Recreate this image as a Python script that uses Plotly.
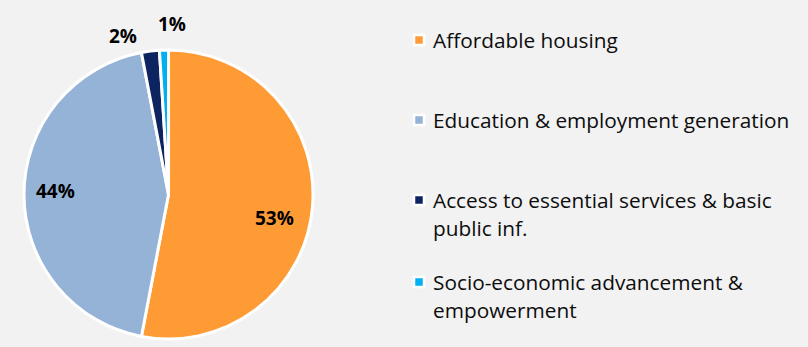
import math
import plotly.graph_objects as go

# Share of funding by purpose (%)
categories = [
    "Affordable housing",
    "Education & employment generation",
    "Access to essential services & basic public inf.",
    "Socio-economic advancement & empowerment",
]
legend_lines = [
    ["Affordable housing"],
    ["Education & employment generation"],
    ["Access to essential services & basic", "public inf."],
    ["Socio-economic advancement &", "empowerment"],
]
values = [53, 44, 2, 1]
colors = ["#FF9B35", "#95B3D7", "#0C2460", "#00B0F0"]

W, H = 808, 347
BG = "#F2F2F2"
FONT = "Open Sans"

# pie placement in pixels
cx, cy, R = 168.5, 194.5, 144.5

fig = go.Figure()
fig.add_trace(go.Pie(
    labels=categories,
    values=values,
    sort=False,
    direction="clockwise",
    rotation=0,
    textinfo="none",
    hoverinfo="label+percent",
    marker=dict(colors=colors, line=dict(color="white", width=3)),
    domain=dict(x=[(cx - R) / W, (cx + R) / W], y=[1 - (cy + R) / H, 1 - (cy - R) / H]),
    showlegend=False,
))

# data labels along each slice's mid angle
label_radius = [0.75, 0.78, 1.14, 1.18]
label_nudge = [7, 2, -9, 3]  # degrees, keeps the two small labels apart
annotations = []
total = sum(values)
start = 0.0
for v, f, nd in zip(values, label_radius, label_nudge):
    mid = (start + v / 2) / total * 360 + nd
    start += v
    t = math.radians(mid)
    px = cx + f * R * math.sin(t)
    py = cy - f * R * math.cos(t)
    annotations.append(dict(
        x=px / W, y=1 - py / H, xref="paper", yref="paper",
        text=f"<b>{v}%</b>", showarrow=False,
        xanchor="center", yanchor="middle",
        font=dict(family=FONT, size=19, color="black"),
    ))

# legend built from squares and text
shapes = []
item_y = [40, 120, 200, 282]
line_gap = 28
sq_x, sq = 419, 10
for lines, col, y0 in zip(legend_lines, colors, item_y):
    shapes.append(dict(
        type="rect", xref="paper", yref="paper",
        x0=(sq_x - sq / 2) / W, x1=(sq_x + sq / 2) / W,
        y0=1 - (y0 + sq / 2) / H, y1=1 - (y0 - sq / 2) / H,
        fillcolor=col, line=dict(color="white", width=2.5),
    ))
    for i, ln in enumerate(lines):
        annotations.append(dict(
            x=431 / W, y=1 - (y0 + i * line_gap) / H, xref="paper", yref="paper",
            text=ln, showarrow=False, xanchor="left", yanchor="middle",
            font=dict(family=FONT, size=20.8, color="#0d0d0d"),
        ))

fig.update_layout(
    width=W, height=H,
    margin=dict(l=0, r=0, t=0, b=0),
    paper_bgcolor=BG, plot_bgcolor=BG,
    annotations=annotations, shapes=shapes,
)

fig.write_html("out.html")
